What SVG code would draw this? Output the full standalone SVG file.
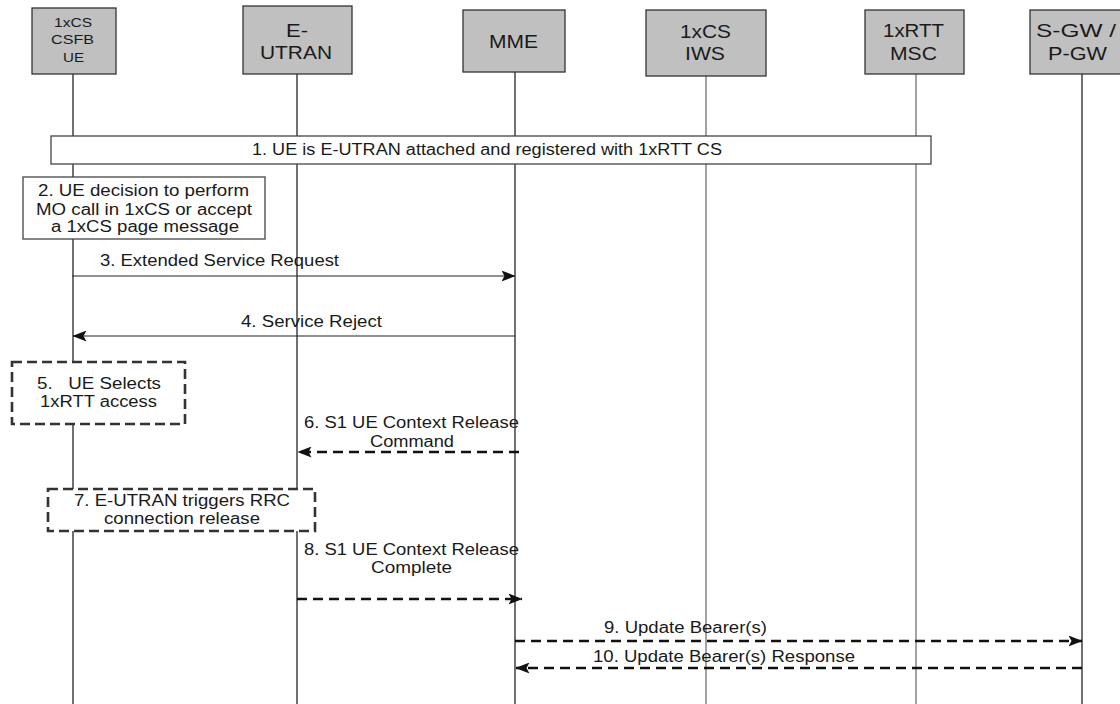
<svg xmlns="http://www.w3.org/2000/svg" width="1120" height="704" viewBox="0 0 1120 704">
<style>
text{font-family:"Liberation Sans",Arial,sans-serif;fill:#1a1a1a}
.h{font-size:18.5px}
.hs{font-size:13px}
.m{font-size:15.8px}
.hdr{fill:#c0c0c0;stroke:#333;stroke-width:1.3}
.life{stroke:#111;stroke-width:1.2;fill:none}
.lifeg{stroke:#666;stroke-width:1.2;fill:none}
.note{fill:#fff;stroke:#444;stroke-width:1.3}
.dnote{fill:#fff;stroke:#333;stroke-width:2.6;stroke-dasharray:10,5}
.sol{stroke:#222;stroke-width:1.2;fill:none}
.dsh{stroke:#111;stroke-width:2.5;stroke-dasharray:10,6;fill:none}
</style>
<defs>
<marker id="ah" markerWidth="14" markerHeight="11" refX="13.5" refY="5.5" orient="auto" markerUnits="userSpaceOnUse">
<path d="M0,0 L14,5.5 L0,11 L3,5.5 z" fill="#111"/>
</marker>
</defs>
<g id="lifelines">
<line class="life" x1="73" y1="74" x2="73" y2="704"/>
<line class="life" x1="297" y1="74" x2="297" y2="704"/>
<line class="life" x1="515" y1="72" x2="515" y2="704"/>
<line class="lifeg" x1="706" y1="76" x2="706" y2="704"/>
<line class="lifeg" x1="916" y1="74" x2="916" y2="704"/>
<line class="life" x1="1082" y1="74" x2="1082" y2="704"/>
</g>
<g id="n-ue">
<rect class="hdr" x="32" y="8" width="84" height="66"/>
<text class="hs" x="54" y="27" textLength="38" lengthAdjust="spacingAndGlyphs">1xCS</text>
<text class="hs" x="51" y="44" textLength="43" lengthAdjust="spacingAndGlyphs">CSFB</text>
<text class="hs" x="63" y="62" textLength="21" lengthAdjust="spacingAndGlyphs">UE</text>
</g>
<g id="n-eutran">
<rect class="hdr" x="243" y="6" width="109" height="68"/>
<text class="h" x="286" y="37" textLength="22" lengthAdjust="spacingAndGlyphs">E-</text>
<text class="h" x="260" y="59" textLength="72" lengthAdjust="spacingAndGlyphs">UTRAN</text>
</g>
<g id="n-mme">
<rect class="hdr" x="463" y="10" width="102" height="62"/>
<text class="h" x="489" y="48" textLength="49" lengthAdjust="spacingAndGlyphs">MME</text>
</g>
<g id="n-iws">
<rect class="hdr" x="646" y="10" width="120" height="66"/>
<text class="h" x="680" y="38" textLength="51" lengthAdjust="spacingAndGlyphs">1xCS</text>
<text class="h" x="685" y="60" textLength="40" lengthAdjust="spacingAndGlyphs">IWS</text>
</g>
<g id="n-msc">
<rect class="hdr" x="865" y="10" width="99" height="64"/>
<text class="h" x="883" y="37" textLength="61" lengthAdjust="spacingAndGlyphs">1xRTT</text>
<text class="h" x="890" y="60" textLength="47" lengthAdjust="spacingAndGlyphs">MSC</text>
</g>
<g id="n-gw">
<rect class="hdr" x="1030" y="10" width="100" height="64"/>
<text class="h" x="1036" y="37" textLength="80" lengthAdjust="spacingAndGlyphs">S-GW /</text>
<text class="h" x="1048" y="60" textLength="59" lengthAdjust="spacingAndGlyphs">P-GW</text>
</g>
<g id="step1">
<rect class="note" x="51" y="136" width="880" height="28"/>
<text class="m" x="252" y="155" textLength="470" lengthAdjust="spacingAndGlyphs">1. UE is E-UTRAN attached and registered with 1xRTT CS</text>
</g>
<g id="step2">
<rect class="note" x="23" y="177" width="242" height="62"/>
<text class="m" x="38" y="196" textLength="211" lengthAdjust="spacingAndGlyphs">2. UE decision to perform</text>
<text class="m" x="36" y="214.5" textLength="216" lengthAdjust="spacingAndGlyphs">MO call in 1xCS or accept</text>
<text class="m" x="51" y="232" textLength="188" lengthAdjust="spacingAndGlyphs">a 1xCS page message</text>
</g>
<g id="step5">
<rect class="dnote" x="12" y="362" width="173" height="62"/>
<text class="m" x="37" y="389" textLength="124" lengthAdjust="spacingAndGlyphs" style="white-space:pre">5.   UE Selects</text>
<text class="m" x="40" y="407" textLength="117" lengthAdjust="spacingAndGlyphs">1xRTT access</text>
</g>
<g id="step7">
<rect class="dnote" x="48" y="489" width="267" height="42"/>
<text class="m" x="74" y="506" textLength="216" lengthAdjust="spacingAndGlyphs">7. E-UTRAN triggers RRC</text>
<text class="m" x="104" y="524" textLength="156" lengthAdjust="spacingAndGlyphs">connection release</text>
</g>
<g id="connectors">
<line class="sol" x1="72" y1="276" x2="515" y2="276" marker-end="url(#ah)"/>
<text class="m" x="100" y="266" textLength="239" lengthAdjust="spacingAndGlyphs">3. Extended Service Request</text>
<line class="sol" x1="515" y1="336" x2="73" y2="336" marker-end="url(#ah)"/>
<text class="m" x="241" y="327" textLength="141" lengthAdjust="spacingAndGlyphs">4. Service Reject</text>
<line class="dsh" x1="519" y1="452" x2="298" y2="452" marker-end="url(#ah)"/>
<text class="m" x="304" y="428" textLength="215" lengthAdjust="spacingAndGlyphs">6. S1 UE Context Release</text>
<text class="m" x="370" y="447" textLength="84" lengthAdjust="spacingAndGlyphs">Command</text>
<line class="dsh" x1="297" y1="599" x2="522" y2="599" marker-end="url(#ah)"/>
<text class="m" x="304" y="555" textLength="215" lengthAdjust="spacingAndGlyphs">8. S1 UE Context Release</text>
<text class="m" x="371" y="573" textLength="81" lengthAdjust="spacingAndGlyphs">Complete</text>
<line class="dsh" x1="515" y1="641" x2="1082" y2="641" marker-end="url(#ah)"/>
<text class="m" x="604" y="633" textLength="163" lengthAdjust="spacingAndGlyphs">9. Update Bearer(s)</text>
<line class="dsh" x1="1082" y1="668" x2="516" y2="668" marker-end="url(#ah)"/>
<text class="m" x="593" y="662" textLength="262" lengthAdjust="spacingAndGlyphs">10. Update Bearer(s) Response</text>
</g>
</svg>
